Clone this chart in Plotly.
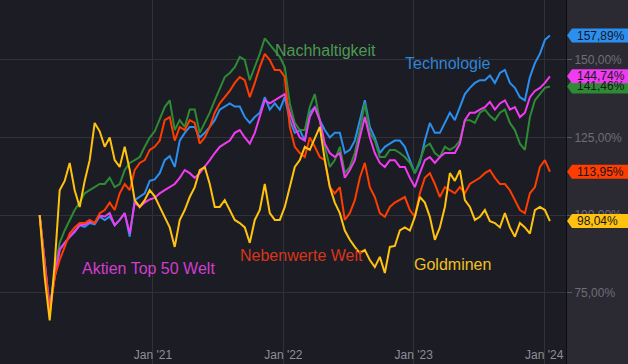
import pandas as pd
import plotly.graph_objects as go

dates = pd.date_range("2020-02-19", periods=103, freq="14D")

technologie = [100, 86, 70, 80, 88.7, 91, 93, 94.5, 96.7, 96.2,
               97.4, 97, 99.5, 98.4, 99.5, 96.7, 98.4, 100.6, 93, 104.8,
               105.8, 107, 111, 111.5, 113.5, 117.7, 119, 115.5, 124, 126.5,
               128.4, 128.4, 125, 126.5, 128.4, 130.6, 134, 135, 136, 135,
               135, 131.6, 129.7, 131.6, 133, 138, 134, 136, 134, 138,
               130.6, 126.5, 127.4, 124, 133, 134.8, 130.6, 127.4, 125, 126.5,
               126.5, 120, 121, 124, 130.6, 137, 128.4, 125, 120, 122,
               123, 124, 124, 122, 117.7, 113.5, 116.8, 124, 129.7, 126.5,
               126.5, 129.7, 133, 130.6, 134.8, 139, 141, 142.6, 143.5, 143.5,
               145, 142.6, 145.8, 146.8, 142.6, 141, 138, 137, 144.5, 149,
               152, 156.5, 157.89]
top50 = [100, 86, 70, 80, 89, 91, 93, 94.8, 96.7, 96.9,
         97.8, 97.5, 99.8, 99.5, 100.6, 96.7, 98.4, 100.6, 94, 104,
         102.6, 104, 105, 105.5, 107, 108, 109, 110, 112, 114.5,
         113.5, 112, 113.5, 115.5, 117.7, 120, 122, 123, 124, 126.5,
         127.4, 125, 123, 126.5, 131.6, 137, 136, 137, 138, 139,
         133, 128.4, 125, 124, 131.6, 134.8, 130.6, 123, 120, 118.7,
         120, 112, 114.5, 117.7, 125, 131.6, 125, 120, 116.8, 115.5,
         117.7, 117.7, 115.5, 115.5, 112, 109, 113.5, 117.7, 118.7, 116.8,
         118.7, 120, 120, 120, 123, 130.6, 133, 133, 134, 134.8,
         136.5, 134, 136, 137, 134, 134.8, 131.6, 133, 138, 140,
         141, 142.6, 144.74]
nachhaltigkeit = [100, 85, 69, 82, 91, 95, 98.4, 101.6, 104, 107,
                  108, 109, 110, 110, 112, 109, 110, 114.5, 116.8, 117.7,
                  118.7, 122, 125, 127, 130.6, 134.8, 137, 127.4, 130.6, 128.4,
                  134, 134, 126.5, 129.7, 133, 137, 141, 144.5, 145.8, 147.7,
                  151, 150, 143.5, 147.7, 152, 157, 155, 153, 151, 147.7,
                  136, 129.7, 127.4, 127.4, 134.8, 139, 130.6, 122, 115.5, 117.7,
                  122, 113.5, 115.5, 120, 127.4, 136, 126.5, 124, 118.7, 118.7,
                  121, 121, 120, 118.7, 116.8, 113.5, 117.7, 122, 123, 120,
                  118.7, 122, 121, 122, 124, 130.6, 130.6, 129.7, 133, 134,
                  132, 130.6, 133, 134, 129.7, 127.4, 123, 121, 131.6, 137,
                  139, 141, 141.46]
nebenwerte = [100, 85, 68, 80, 85.5, 89.7, 94, 96, 97.4, 97.4,
              98.4, 97.4, 100.6, 101.6, 104, 101.6, 107, 110, 108, 114.5,
              116.8, 117.7, 121, 122, 124, 130.6, 131.6, 124, 128.4, 127.4,
              130.6, 129.7, 123, 125, 128.4, 133, 136, 138, 140, 142.6,
              144.5, 143.5, 138, 142.6, 147.7, 152, 150, 146.8, 146.8, 144.5,
              128.4, 122, 120, 118.7, 125, 122, 118.7, 117.7, 109, 107,
              109, 98.4, 100.6, 104.8, 112, 116.8, 109, 105.8, 100.6, 99.4,
              102.6, 104, 104.8, 105.8, 101.6, 99.4, 107, 112, 113.5, 110,
              105.8, 109, 108, 107, 109, 107, 110, 111, 112, 113.5,
              114.5, 112, 110, 110, 108, 104.8, 101.6, 100.6, 107, 109,
              115.5, 117.7, 113.95]
goldminen = [100, 80, 66, 84, 108, 111, 116.8, 108, 102.6, 111,
             117.7, 129.7, 127, 122, 125, 117.7, 115.5, 122, 114.5, 104.8,
             102.6, 104.8, 108, 106, 102.6, 99.4, 96, 89.7, 98.4, 101.6,
             105.8, 109, 114.5, 115.5, 110, 102.6, 102.6, 104.8, 101.6, 98.4,
             97.4, 96, 91, 98.4, 101.6, 110, 100.6, 98.4, 98.4, 102.6,
             109, 115.5, 117.7, 122, 121, 125, 128.4, 117.7, 109, 104,
             100.6, 95, 92, 89.7, 87.7, 88.7, 85.5, 83.2, 86.5, 81.3,
             89.7, 90, 95, 96, 95, 99.4, 105.8, 104, 99.4, 92,
             96, 102.6, 113.5, 111, 114.5, 104.8, 102.6, 98.4, 99.4, 101.6,
             98, 97.4, 96, 100.6, 96, 93, 97.4, 96, 94, 101.6,
             102.6, 101.6, 98.04]

series = [
    ("Technologie", technologie, "#2b8ff0", "#2f86d8"),
    ("Nachhaltigkeit", nachhaltigkeit, "#2f8a35", "#4c9a52"),
    ("Aktien Top 50 Welt", top50, "#f03cf0", "#d03ed0"),
    ("Nebenwerte Welt", nebenwerte, "#ff3d00", "#d8361a"),
    ("Goldminen", goldminen, "#ffc30f", "#f0c020"),
]

label_pos = {
    "Nachhaltigkeit": ("2021-12-03", 153.2),
    "Technologie": ("2022-12-03", 149.0),
    "Aktien Top 50 Welt": ("2020-06-12", 82.9),
    "Nebenwerte Welt": ("2021-08-28", 87.1),
    "Goldminen": ("2022-12-28", 83.9),
}

ytick_vals = [75, 100, 125, 150]
ytick_text = ["75,00%", "100,00%", "125,00%", "150,00%"]
xtick_vals = ["2021-01-01", "2022-01-01", "2023-01-01", "2024-01-01"]
xtick_text = ["Jan '21", "Jan '22", "Jan '23", "Jan '24"]

fig = go.Figure()
for name, vals, color, _ in series:
    fig.add_trace(go.Scatter(x=dates, y=vals, mode="lines", name=name,
                             line=dict(color=color, width=2), hoverinfo="skip"))

font_family = "Liberation Sans, Arial, sans-serif"
annotations = []
for name, vals, color, tcolor in series:
    xd, yv = label_pos[name]
    annotations.append(dict(x=xd, y=yv, xref="x", yref="y", text=name,
                            showarrow=False, xanchor="left", yanchor="middle",
                            font=dict(family=font_family, size=16, color=tcolor)))

# value tags on the right axis
tag_order = ["Nachhaltigkeit", "Aktien Top 50 Welt", "Nebenwerte Welt", "Goldminen", "Technologie"]
shapes = []
# right panel background
shapes.append(dict(type="rect", xref="paper", yref="paper", x0=1, x1=1.2, y0=-0.1, y1=1.1,
                   fillcolor="#2b2a33", line=dict(width=0), layer="below"))
lookup = {s[0]: s for s in series}
for name in tag_order:
    _, vals, color, _ = lookup[name]
    last = vals[-1]
    shapes.append(dict(type="path", xref="paper", yref="y", xsizemode="pixel", ysizemode="pixel",
                       xanchor=1, yanchor=last,
                       path="M1,0 L6,7 L64,7 L64,-7 L6,-7 Z",
                       fillcolor=color, line=dict(width=0), layer="above"))
    annotations.append(dict(x=1, y=last, xref="paper", yref="y", xanchor="left", yanchor="middle",
                            xshift=9, showarrow=False,
                            text=("%.2f" % last).replace(".", ",") + "%",
                            font=dict(family=font_family, size=12, color="#16161a")))

fig.update_layout(
    width=628, height=364,
    margin=dict(l=0, r=62, t=0, b=0),
    paper_bgcolor="#1c1c24", plot_bgcolor="#1c1c24",
    showlegend=False,
    shapes=shapes, annotations=annotations,
    xaxis=dict(type="date", range=["2019-10-31", "2024-03-02"],
               tickvals=xtick_vals, ticktext=xtick_text,
               ticklabelposition="inside", showgrid=True, gridcolor="#30313a", gridwidth=1,
               zeroline=False, showline=False, ticks="",
               tickfont=dict(family=font_family, size=12, color="#8e8e96")),
    yaxis=dict(side="right", range=[51.94, 169.35], tickvals=ytick_vals, ticktext=ytick_text,
               showgrid=True, gridcolor="#30313a", gridwidth=1, zeroline=False,
               showline=True, linecolor="#0c0c10", linewidth=1,
               ticks="outside", ticklen=5, tickcolor="#5a5a62",
               tickfont=dict(family=font_family, size=12, color="#6e6e76")),
)

fig.write_html("out.html", config={"displayModeBar": False},
               post_script="document.body.style.margin='0px';document.body.style.overflow='hidden';")
